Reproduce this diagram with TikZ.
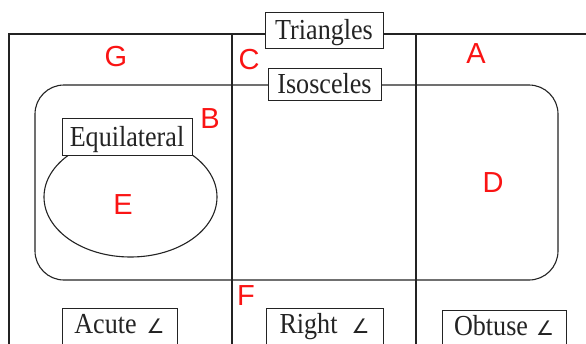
\documentclass[tikz,border=0pt]{standalone}
\usepackage{fontspec}
\setmainfont{Liberation Serif}
\newfontfamily\lblfont[FakeStretch=0.9]{Liberation Serif}
\newfontfamily\regfont{Liberation Sans}
\newfontfamily\angfont{DejaVu Sans}
\usepackage{xcolor}
\usepackage{tikz}
\usetikzlibrary{positioning}
\definecolor{framegray}{RGB}{35,35,35}
\definecolor{regionred}{RGB}{250,20,20}
\newcommand{\angsym}{{\fontsize{20}{20}\angfont ∠}}

\begin{document}
\begin{tikzpicture}[
    x=1pt, y=-1pt,
    line width=1.1pt, color=framegray,
    setbox/.style={draw, fill=white, line width=1pt, font=\fontsize{29}{30}\lblfont, text height=19pt, text depth=0pt, inner sep=0pt, minimum width=#1},
    anglebox/.style={setbox=#1, anchor=north, text depth=16pt, inner ysep=6pt},
    region/.style={text=regionred, font=\fontsize{29}{30}\regfont, inner sep=0pt}
]
\clip (0,0) rectangle (586,343);

\coordinate (frameSW) at (9,360);
\coordinate (frameNE) at (600,34);
\draw (frameSW) |- (frameNE);
\draw (232,34) -- (232,360);
\draw (416,34) -- (416,360);
\draw[rounded corners=29pt] (35,85) rectangle (558,280);
\draw (130.5,197) ellipse [x radius=86.5, y radius=60];

\node[setbox=118pt, minimum height=36pt] (triangles) at (324,30) {Triangles};
\node[setbox=113pt, minimum height=32pt] (isosceles) at (324.5,84) {Isosceles};
\node[setbox=130pt, minimum height=37pt] (equilateral) at (127,136.5) {Equilateral};
\node[anglebox=115pt] (acute) at (119.5,308) {Acute\hspace{10pt}\angsym};
\node[anglebox=117pt] (right) at (324.5,308) {Right\hspace{14pt}\angsym};
\node[anglebox=124pt] (obtuse) at (504,310) {Obtuse\hspace{8pt}\angsym};

\node[region] (regG) at (116,57) {G};
\node[region] (regC) at (249,60) {C};
\node[region] (regA) at (476,54) {A};
\node[region] (regB) at (210,119) {B};
\node[region] (regD) at (493,183) {D};
\node[region] (regE) at (123,205) {E};
\node[region] (regF) at (246,296) {F};

\end{tikzpicture}
\end{document}
